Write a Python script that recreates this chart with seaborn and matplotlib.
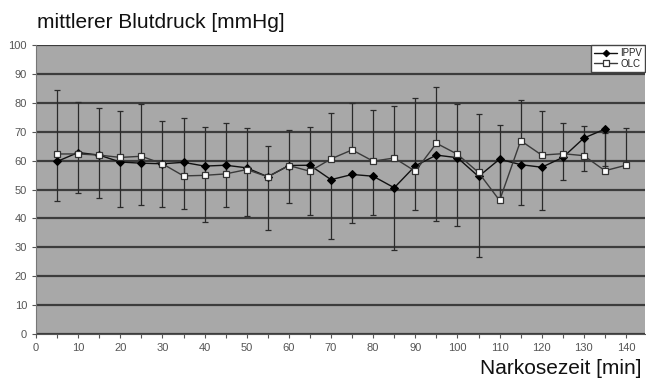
import matplotlib
matplotlib.use("Agg")
import matplotlib.pyplot as plt
import seaborn as sns
import numpy as np
import pandas as pd

# Narkosezeit [min]
zeit = [5, 10, 15, 20, 25, 30, 35, 40, 45, 50, 55, 60, 65, 70, 75, 80, 85,
        90, 95, 100, 105, 110, 115, 120, 125, 130, 135, 140]

# mittlerer Blutdruck [mmHg], IPPV (no value at 140 min)
ippv = [59.7, 62.8, 61.9, 59.5, 59.1, 58.9, 59.4, 58.1, 58.4, 57.5, 54.4, 58.3,
        58.4, 53.4, 55.2, 54.6, 50.6, 58.2, 61.9, 61.0, 54.5, 60.5, 58.6, 57.7,
        61.1, 67.8, 70.9, np.nan]
# lower end of the IPPV error bar
ippv_lower = [45.9, 48.8, 46.9, 44.0, 44.7, 44.0, 43.2, 38.6, 44.0, 41.0, 36.0,
              45.4, 41.3, 33.0, 38.3, 41.3, 29.0, 42.9, 39.1, 37.4, 26.7, 47.5,
              44.5, 42.9, 53.3, 56.5, 58.0, np.nan]

olc = [62.3, 62.3, 61.9, 61.1, 61.5, 58.9, 54.7, 54.9, 55.4, 56.9, 54.4, 58.3,
       56.3, 60.6, 63.7, 59.8, 60.9, 56.3, 66.0, 62.2, 55.9, 46.2, 66.9, 61.9,
       62.4, 61.7, 56.5, 58.4]
# upper end of the OLC error bar
olc_upper = [84.6, 80.3, 78.3, 77.0, 79.7, 73.8, 74.9, 71.7, 73.1, 71.2, 65.0,
             70.7, 71.5, 76.6, 80.1, 77.6, 79.0, 81.7, 85.6, 79.7, 76.2, 72.2,
             81.0, 77.1, 73.0, 71.9, 69.5, 71.2]

df = pd.DataFrame({"zeit": zeit, "IPPV": ippv, "OLC": olc})

sns.set_style("ticks")
plt.rcParams['font.family'] = ['Liberation Sans', 'DejaVu Sans']

fig = plt.figure(figsize=(6.46, 3.81), dpi=100)
ax = fig.add_axes([36 / 646, 47 / 381, 609 / 646, 289 / 381])
ax.set_facecolor("#a8a8a8")

# error bars: IPPV downwards, OLC upwards
x = np.array(zeit, dtype=float)
ip = np.array(ippv)
ol = np.array(olc)
ax.errorbar(x, ip, yerr=[ip - np.array(ippv_lower), np.zeros_like(ip)],
            fmt="none", ecolor="#2a2a2a", elinewidth=0.9, capsize=2, capthick=0.9, zorder=3)
ax.errorbar(x, ol, yerr=[np.zeros_like(ol), np.array(olc_upper) - ol],
            fmt="none", ecolor="#2a2a2a", elinewidth=0.9, capsize=2, capthick=0.9, zorder=3)

sns.lineplot(data=df, x="zeit", y="IPPV", ax=ax, color="#111111", lw=1.0,
             marker="D", markersize=4.2, markerfacecolor="#000000",
             markeredgecolor="#000000", label="IPPV", zorder=4)
sns.lineplot(data=df, x="zeit", y="OLC", ax=ax, color="#3a3a3a", lw=1.0,
             marker="s", markersize=5, markerfacecolor="white",
             markeredgecolor="#333333", markeredgewidth=0.9, label="OLC", zorder=5)

ax.set_xlim(0, 144.5)
ax.set_ylim(0, 100)
ax.set_xticks(np.arange(0, 141, 10))
ax.set_xticks(np.arange(0, 141, 5), minor=True)
ax.set_yticks(np.arange(0, 101, 10))
ax.yaxis.grid(True, color="#3c3c3c", lw=1.6)
ax.set_axisbelow(True)
ax.tick_params(axis="both", labelsize=8, labelcolor="#555555", color="#555555",
               length=3, width=0.8)
ax.tick_params(axis="x", which="minor", length=3, width=0.8, color="#555555")
for s in ["top", "right"]:
    ax.spines[s].set_visible(False)
ax.spines["left"].set_color("#777777")
ax.spines["bottom"].set_color("#555555")

ax.set_xlabel("")
ax.set_ylabel("")
fig.text(37 / 646, 1 - 22 / 381, "mittlerer Blutdruck [mmHg]", fontsize=15,
         ha="left", va="center", color="#111111")
fig.text(641 / 646, 1 - 368 / 381, "Narkosezeit [min]", fontsize=15,
         ha="right", va="center", color="#111111")

leg = ax.legend(loc="upper right", fontsize=7, frameon=True, fancybox=False,
                borderpad=0.3, labelspacing=0.1, handlelength=2.4,
                handletextpad=0.3, borderaxespad=0.0, markerscale=0.8)
leg.get_frame().set_edgecolor("#444444")
leg.get_frame().set_facecolor("white")
leg.get_frame().set_alpha(1)

fig.savefig("out.png", dpi=100)
